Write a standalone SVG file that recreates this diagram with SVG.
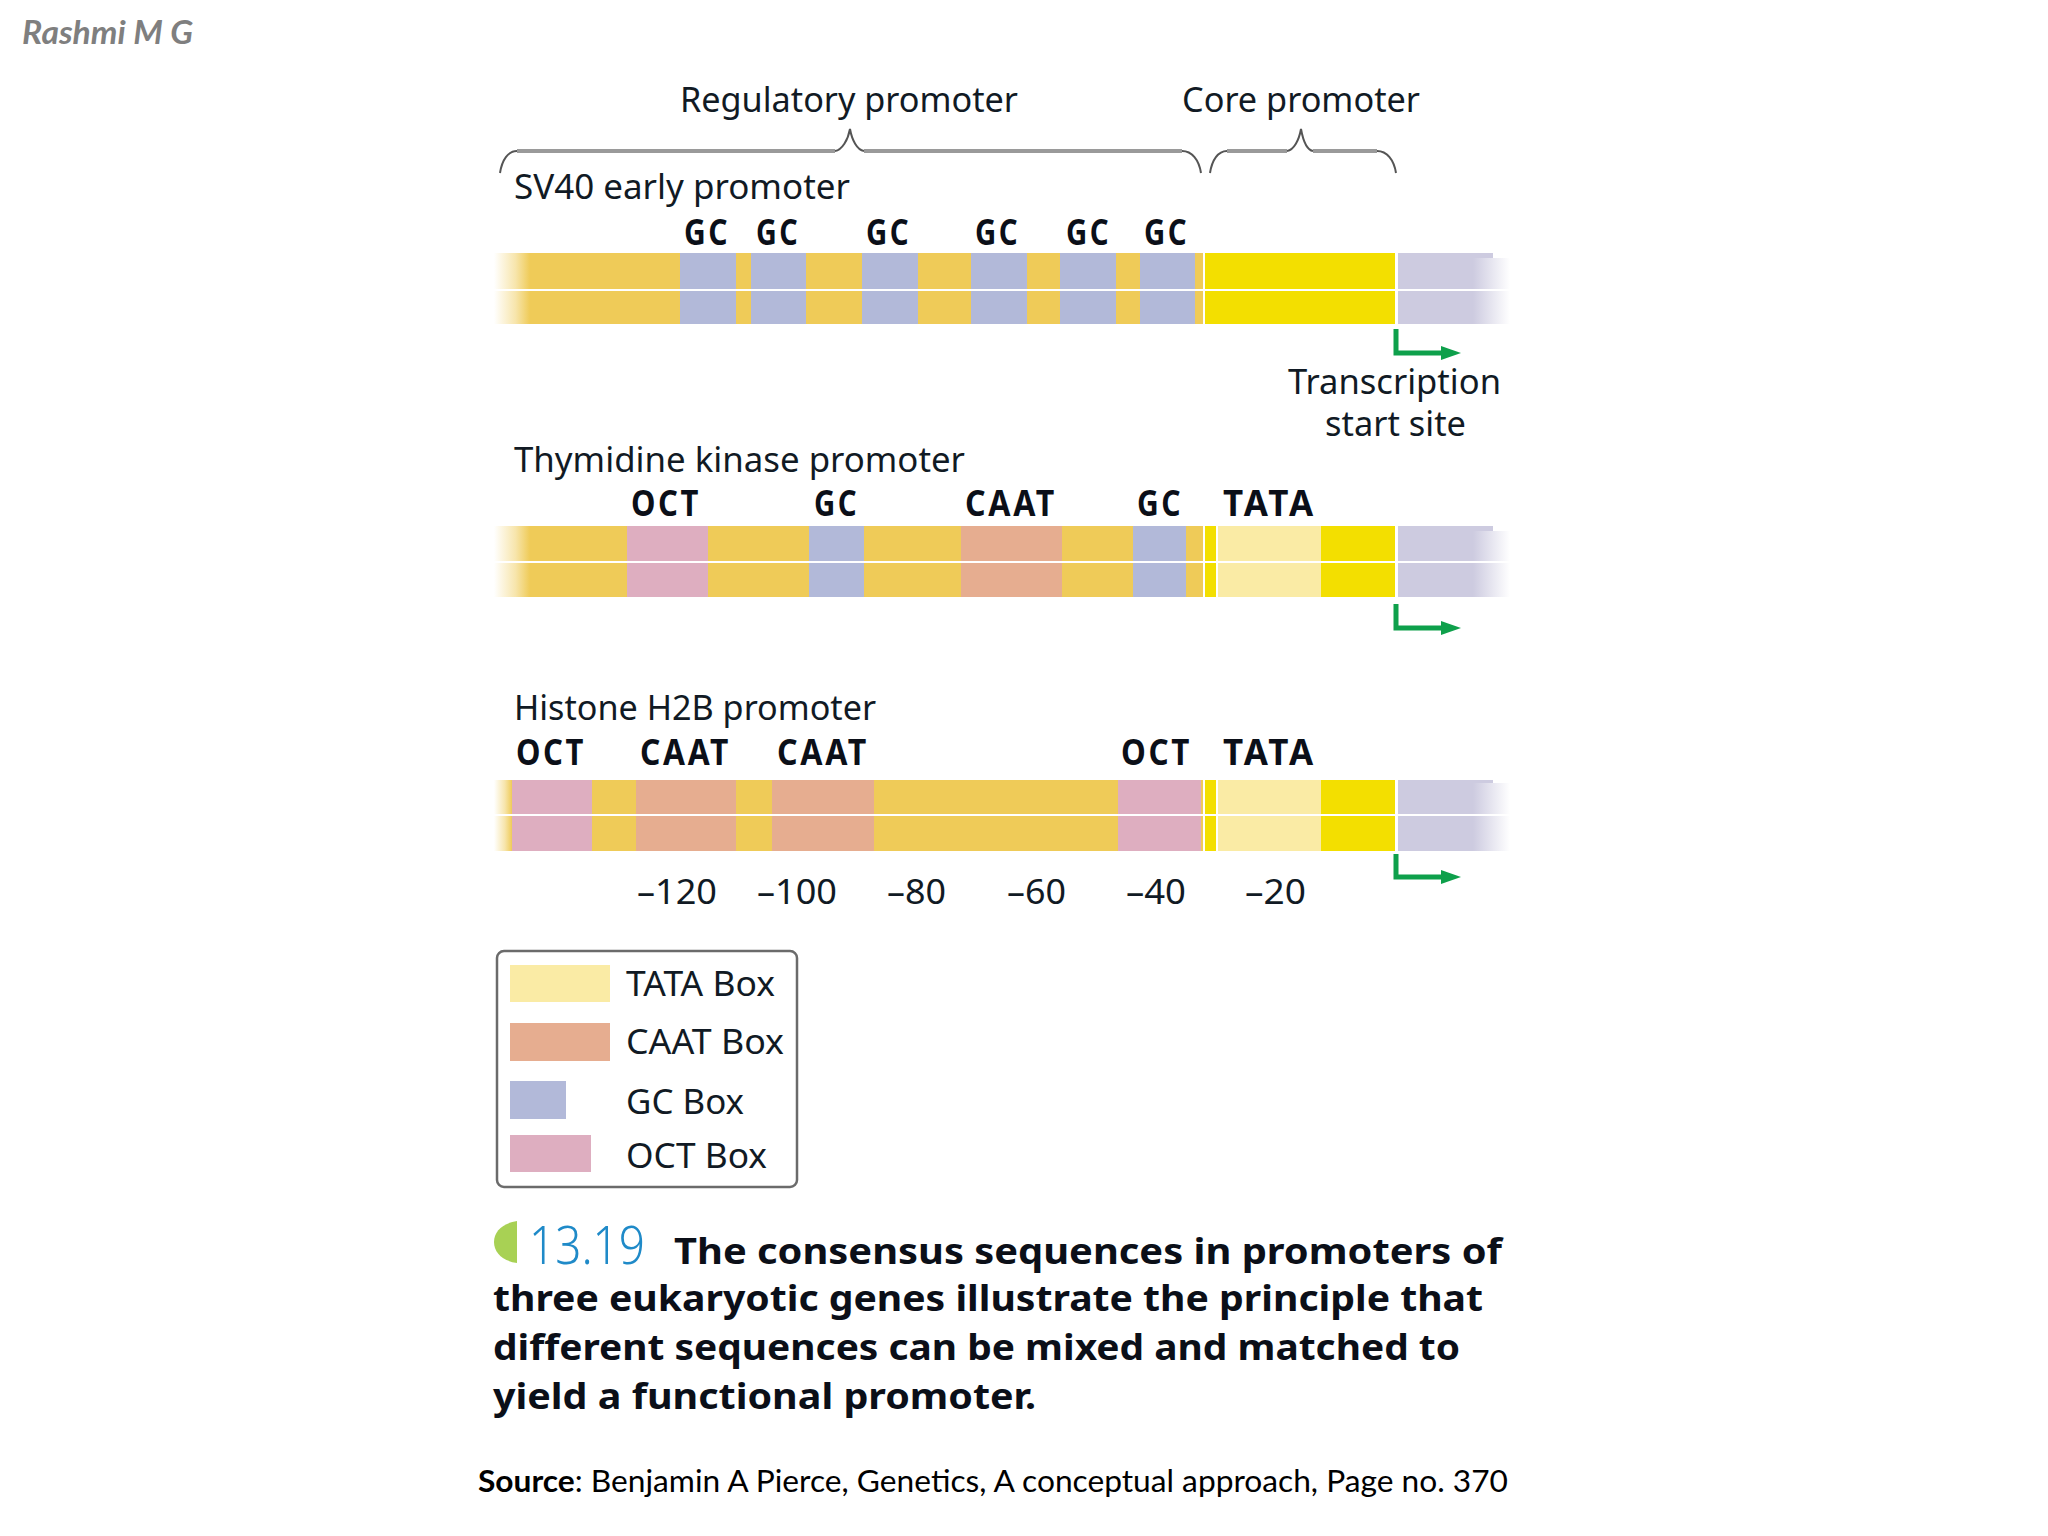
<svg xmlns="http://www.w3.org/2000/svg" width="2048" height="1536" viewBox="0 0 2048 1536">
<style>
text{font-family:"Noto Sans","Liberation Sans",sans-serif;fill:#111a24}
.lab{font-size:34px}
.tag{font-size:36px;font-weight:700;fill:#0b0f18;letter-spacing:3px}
.num{font-size:34px}
.cap{font-size:36px;font-weight:700;fill:#0b0f18}
.src{font-family:"Lato","Liberation Sans",sans-serif;font-size:31px;fill:#000}
.o{fill:#efcb58}.g{fill:#b2b9d9}.p{fill:#deaec0}.c{fill:#e6ad90}.t{fill:#faeba5}.y{fill:#f3df00}.l{fill:#cdcbe0}
.mid{fill:#fff}
.brace{fill:none;stroke:#9a9a9a;stroke-width:4}
.brace2{fill:none;stroke:#555;stroke-width:2}
.tss{fill:none;stroke:#0ea04b;stroke-width:5;marker-end:url(#ah)}
</style>
<defs>
<linearGradient id="fo"><stop offset="0" stop-color="#efcb58" stop-opacity="0"/><stop offset="0.6" stop-color="#efcb58" stop-opacity="0.5"/><stop offset="1" stop-color="#efcb58"/></linearGradient>
<linearGradient id="fl"><stop offset="0" stop-color="#cdcbe0"/><stop offset="1" stop-color="#cdcbe0" stop-opacity="0"/></linearGradient>
<marker id="ah" markerUnits="userSpaceOnUse" markerWidth="21" markerHeight="16" refX="1" refY="8" orient="auto"><path d="M0,1 L20,8 L0,15 z" fill="#0ea04b"/></marker>
</defs>
<rect width="2048" height="1536" fill="#fff"/>

<text id="author" x="22" y="44" style="font-family:Lato,'Liberation Sans',sans-serif;font-size:32px;font-weight:700;font-style:italic;fill:#7f7f7f" textLength="171" lengthAdjust="spacingAndGlyphs">Rashmi M G</text>

<g id="heading-regulatory"><text class="lab" x="680" y="112" textLength="338" lengthAdjust="spacingAndGlyphs">Regulatory promoter</text></g>
<g id="heading-core"><text class="lab" x="1182" y="112" textLength="238" lengthAdjust="spacingAndGlyphs">Core promoter</text></g>

<g id="connectors">
<path class="brace" d="M517,151 H835 M864,151 H1182"/>
<path class="brace2" d="M500,173 C502,160 508,151 517,151 M835,151 C842,150 848,140 850,129 C852,140 857,150 864,151 M1182,151 C1192,151 1199,160 1201,173"/>
<path class="brace" d="M1227,151 H1287 M1313,151 H1377"/>
<path class="brace2" d="M1210,173 C1212,160 1218,151 1227,151 M1287,151 C1294,150 1299,140 1301,129 C1303,140 1307,150 1313,151 M1377,151 C1387,151 1394,160 1396,173"/>
<path class="tss" d="M1396,329 V353 H1442"/>
<path class="tss" d="M1396,604 V628 H1442"/>
<path class="tss" d="M1396,854 V877 H1442"/>
</g>

<g id="tss-label">
<text class="lab" x="1288" y="394" textLength="213" lengthAdjust="spacingAndGlyphs">Transcription</text>
<text class="lab" x="1325" y="436" textLength="141" lengthAdjust="spacingAndGlyphs">start site</text>
</g>

<g id="sv40">
<text class="lab" x="514" y="199" textLength="336" lengthAdjust="spacingAndGlyphs">SV40 early promoter</text>
<text class="tag" x="684" y="245" textLength="46" lengthAdjust="spacingAndGlyphs">GC</text>
<text class="tag" x="756" y="245" textLength="44" lengthAdjust="spacingAndGlyphs">GC</text>
<text class="tag" x="866" y="245" textLength="45" lengthAdjust="spacingAndGlyphs">GC</text>
<text class="tag" x="975" y="245" textLength="45" lengthAdjust="spacingAndGlyphs">GC</text>
<text class="tag" x="1066" y="245" textLength="45" lengthAdjust="spacingAndGlyphs">GC</text>
<text class="tag" x="1144" y="245" textLength="45" lengthAdjust="spacingAndGlyphs">GC</text>
<rect x="494" y="253" width="36" height="71" fill="url(#fo)"/>
<rect class="o" x="530" y="253" width="673" height="71"/>
<rect class="g" x="680" y="253" width="56" height="71"/>
<rect class="g" x="751" y="253" width="55" height="71"/>
<rect class="g" x="862" y="253" width="56" height="71"/>
<rect class="g" x="971" y="253" width="56" height="71"/>
<rect class="g" x="1060" y="253" width="56" height="71"/>
<rect class="g" x="1140" y="253" width="55" height="71"/>
<rect class="y" x="1205" y="253" width="190" height="71"/>
<rect class="l" x="1398" y="253" width="75" height="71"/>
<rect class="l" x="1473" y="253" width="20" height="5"/>
<rect x="1473" y="258" width="37" height="66" fill="url(#fl)"/>
<rect class="mid" x="494" y="289" width="1016" height="2"/>
</g>

<g id="thymidine-kinase">
<text class="lab" x="514" y="472" textLength="451" lengthAdjust="spacingAndGlyphs">Thymidine kinase promoter</text>
<text class="tag" x="631" y="516" textLength="70" lengthAdjust="spacingAndGlyphs">OCT</text>
<text class="tag" x="814" y="516" textLength="45" lengthAdjust="spacingAndGlyphs">GC</text>
<text class="tag" x="965" y="516" textLength="92" lengthAdjust="spacingAndGlyphs">CAAT</text>
<text class="tag" x="1137" y="516" textLength="46" lengthAdjust="spacingAndGlyphs">GC</text>
<text class="tag" x="1223" y="516" textLength="93" lengthAdjust="spacingAndGlyphs">TATA</text>
<rect x="494" y="526" width="36" height="71" fill="url(#fo)"/>
<rect class="o" x="530" y="526" width="673" height="71"/>
<rect class="p" x="627" y="526" width="81" height="71"/>
<rect class="g" x="809" y="526" width="55" height="71"/>
<rect class="c" x="961" y="526" width="101" height="71"/>
<rect class="g" x="1133" y="526" width="53" height="71"/>
<rect class="y" x="1205" y="526" width="11" height="71"/>
<rect class="t" x="1218" y="526" width="103" height="71"/>
<rect class="y" x="1321" y="526" width="74" height="71"/>
<rect class="l" x="1398" y="526" width="75" height="71"/>
<rect class="l" x="1473" y="526" width="20" height="5"/>
<rect x="1473" y="531" width="37" height="66" fill="url(#fl)"/>
<rect class="mid" x="494" y="561" width="1016" height="2"/>
</g>

<g id="histone-h2b">
<text class="lab" x="514" y="720" textLength="362" lengthAdjust="spacingAndGlyphs">Histone H2B promoter</text>
<text class="tag" x="516" y="765" textLength="70" lengthAdjust="spacingAndGlyphs">OCT</text>
<text class="tag" x="640" y="765" textLength="91" lengthAdjust="spacingAndGlyphs">CAAT</text>
<text class="tag" x="777" y="765" textLength="92" lengthAdjust="spacingAndGlyphs">CAAT</text>
<text class="tag" x="1121" y="765" textLength="71" lengthAdjust="spacingAndGlyphs">OCT</text>
<text class="tag" x="1223" y="765" textLength="93" lengthAdjust="spacingAndGlyphs">TATA</text>
<rect x="494" y="780" width="18" height="71" fill="url(#fo)"/>
<rect class="o" x="512" y="780" width="691" height="71"/>
<rect class="p" x="512" y="780" width="80" height="71"/>
<rect class="c" x="636" y="780" width="100" height="71"/>
<rect class="c" x="772" y="780" width="102" height="71"/>
<rect class="p" x="1118" y="780" width="83" height="71"/>
<rect class="y" x="1205" y="780" width="11" height="71"/>
<rect class="t" x="1218" y="780" width="103" height="71"/>
<rect class="y" x="1321" y="780" width="74" height="71"/>
<rect class="l" x="1398" y="780" width="75" height="71"/>
<rect class="l" x="1473" y="780" width="20" height="3"/>
<rect x="1473" y="783" width="37" height="68" fill="url(#fl)"/>
<rect class="mid" x="494" y="814" width="1016" height="2"/>
</g>

<g id="scale">
<text class="num" x="637" y="904" textLength="80" lengthAdjust="spacingAndGlyphs">–120</text>
<text class="num" x="757" y="904" textLength="80" lengthAdjust="spacingAndGlyphs">–100</text>
<text class="num" x="887" y="904" textLength="59" lengthAdjust="spacingAndGlyphs">–80</text>
<text class="num" x="1007" y="904" textLength="59" lengthAdjust="spacingAndGlyphs">–60</text>
<text class="num" x="1126" y="904" textLength="60" lengthAdjust="spacingAndGlyphs">–40</text>
<text class="num" x="1245" y="904" textLength="61" lengthAdjust="spacingAndGlyphs">–20</text>
</g>

<g id="legend">
<rect x="497" y="951" width="300" height="236" rx="7" fill="#fff" stroke="#6b6b6b" stroke-width="2.5"/>
<rect class="t" x="510" y="965" width="100" height="37"/>
<rect class="c" x="510" y="1023" width="100" height="38"/>
<rect class="g" x="510" y="1081" width="56" height="38"/>
<rect class="p" x="510" y="1135" width="81" height="37"/>
<text class="lab" x="626" y="996" textLength="149" lengthAdjust="spacingAndGlyphs">TATA Box</text>
<text class="lab" x="626" y="1054" textLength="158" lengthAdjust="spacingAndGlyphs">CAAT Box</text>
<text class="lab" x="626" y="1114" textLength="118" lengthAdjust="spacingAndGlyphs">GC Box</text>
<text class="lab" x="626" y="1168" textLength="141" lengthAdjust="spacingAndGlyphs">OCT Box</text>
</g>

<g id="caption">
<path d="M517,1221 C503,1223 494,1231 494,1242 C494,1253 503,1261 517,1263 z" fill="#a8d154"/>
<text x="529" y="1264" style="font-size:54px;font-weight:300;fill:#1f8ac8" textLength="116" lengthAdjust="spacingAndGlyphs">13.19</text>
<text class="cap" x="674" y="1264" textLength="828" lengthAdjust="spacingAndGlyphs">The consensus sequences in promoters of</text>
<text class="cap" x="493" y="1311" textLength="990" lengthAdjust="spacingAndGlyphs">three eukaryotic genes illustrate the principle that</text>
<text class="cap" x="493" y="1360" textLength="967" lengthAdjust="spacingAndGlyphs">different sequences can be mixed and matched to</text>
<text class="cap" x="493" y="1409" textLength="543" lengthAdjust="spacingAndGlyphs">yield a functional promoter.</text>
</g>

<text id="source" class="src" x="478" y="1492" textLength="1030" lengthAdjust="spacingAndGlyphs"><tspan font-weight="700">Source</tspan>: Benjamin A Pierce, Genetics, A conceptual approach, Page no. 370</text>
</svg>
